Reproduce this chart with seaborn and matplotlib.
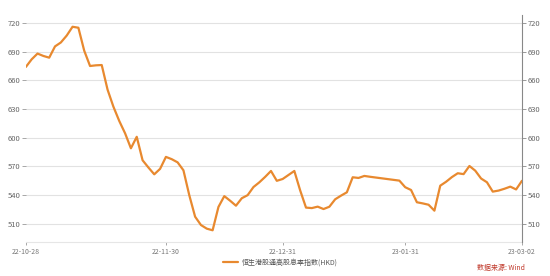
import matplotlib
matplotlib.use("Agg")
import matplotlib.pyplot as plt
import seaborn as sns
import pandas as pd

sns.set_theme(style="white")
plt.rcParams['font.family'] = ['Noto Sans CJK SC', 'DejaVu Sans']

series_name = "恒生港股通高股息率指数(HKD)"
values = [674, 682, 688, 685.5, 683.7, 695.5, 699.6, 706.8, 716, 715,
          691, 675, 675.7, 676, 650.3, 632.5, 617.6, 604.7, 589, 601,
          576.5, 568.9, 561.8, 567.5, 580, 577.6, 574.3, 566, 540, 517.5,
          508.8, 505, 503.3, 527.7, 539, 534.2, 529, 536.8, 540, 548.5,
          553.4, 559.1, 565.3, 555, 556.9, 561.1, 565.3, 545, 527, 526.5,
          528, 525.5, 527.9, 535.7, 539.5, 543, 558.7, 558, 560.1, 559.2,
          558.4, 557.6, 556.8, 556, 555.2, 548.3, 545.4, 532.6, 531.4, 530,
          523.8, 549.9, 554, 558.9, 562.9, 562, 570.5, 565.6, 557.4, 553.5,
          543.7, 544.8, 546.7, 548.9, 546, 555]
tick_labels = ["22-10-28", "22-11-30", "22-12-31", "23-01-31", "23-03-02"]
tick_index = [0, 24, 44, 65, 85]
y_ticks = [510, 540, 570, 600, 630, 660, 690, 720]

df = pd.DataFrame({"idx": range(len(values)), "value": values})

fig = plt.figure(figsize=(5.5, 2.76), dpi=100)
ax = fig.add_axes([0.047, 0.123, 0.902, 0.823])

line_color = "#E8892F"
sns.lineplot(data=df, x="idx", y="value", ax=ax, color=line_color,
             linewidth=1.6, label=series_name, legend=False)

ax.set_xlim(0, len(values) - 1)
ax.set_ylim(491, 728.4)
ax.set_yticks(y_ticks)
ax.set_yticklabels([str(v) for v in y_ticks])
ax.set_xticks(tick_index)
ax.set_xticklabels(tick_labels)
ax.set_xlabel("")
ax.set_ylabel("")
ax.grid(axis="y", color="#e2e2e2", linewidth=0.8)
ax.grid(axis="x", visible=False)

for s in ["top", "left", "right"]:
    ax.spines[s].set_visible(False)
ax.spines["bottom"].set_color("#e6e6e6")
ax.spines["bottom"].set_linewidth(0.8)

ax.tick_params(axis="y", which="both", left=True, length=3, width=0.6,
               color="#999999", labelsize=5.5, labelcolor="#666666", pad=1)
ax.tick_params(axis="x", which="both", bottom=True, length=2, width=0.6,
               color="#999999", labelsize=5, labelcolor="#777777", pad=2)

ax2 = ax.twinx()
ax2.set_ylim(ax.get_ylim())
ax2.set_yticks(y_ticks)
ax2.set_yticklabels([str(v) for v in y_ticks])
for s in ["top", "left", "bottom"]:
    ax2.spines[s].set_visible(False)
ax2.spines["right"].set_color("#888888")
ax2.spines["right"].set_linewidth(0.8)
ax2.tick_params(axis="y", right=True, length=3, width=0.6, color="#888888",
                labelsize=5.5, labelcolor="#666666", pad=1)
ax2.grid(False)

handles, labels = ax.get_lines(), [series_name]
fig.legend(handles[:1], labels, loc="center", bbox_to_anchor=(0.51, 0.05),
           frameon=False, fontsize=5, handlelength=2.2, handletextpad=0.5,
           labelcolor="#555555")

fig.text(0.955, 0.028, "数据来源: Wind", ha="right", va="center",
         fontsize=5, color="#c0392b")

fig.savefig("out.png", dpi=100)
